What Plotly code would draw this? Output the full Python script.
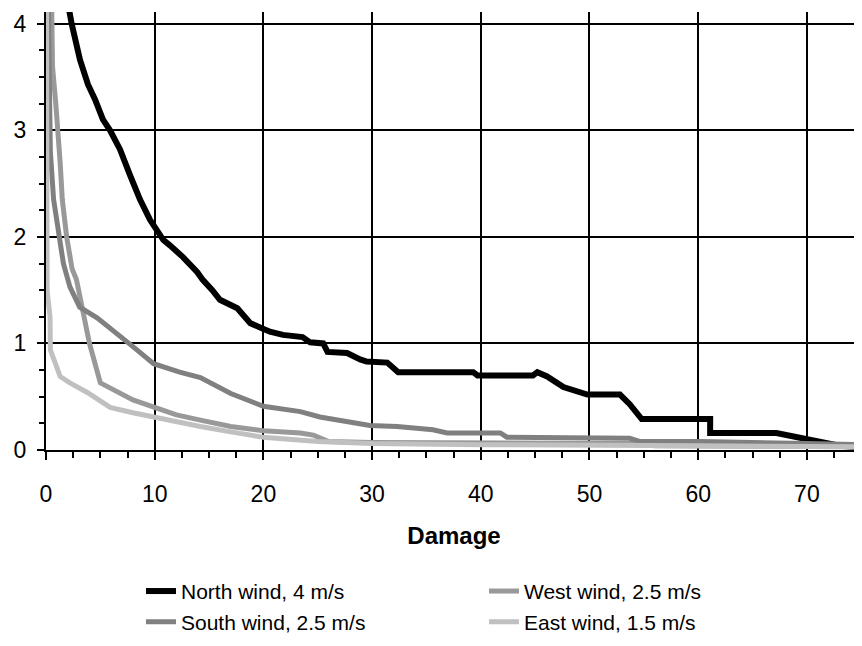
import plotly.graph_objects as go

# Data (Damage on x, value on y)
north_x = [2.0, 2.36, 3.13, 3.86, 4.51, 5.24, 5.89, 6.81, 7.73, 8.65, 9.57, 10.1, 10.8, 11.4, 12.6, 13.9, 14.4, 15.3, 16.0,
           17.6, 18.8, 19.7, 20.6, 21.8, 23.6, 24.3, 25.5, 25.9, 27.7, 28.9, 29.5, 31.4, 32.4, 39.3, 39.7, 44.8, 45.2,
           46.1, 47.6, 49.8, 52.8, 53.7, 54.8, 61.1, 61.1, 67.2, 70.9, 73.0, 76.0]
north_y = [4.2, 4.0, 3.66, 3.43, 3.29, 3.10, 3.0, 2.82, 2.58, 2.35, 2.16, 2.07, 1.97, 1.92, 1.81, 1.67, 1.60, 1.50, 1.41,
           1.33, 1.19, 1.15, 1.11, 1.08, 1.06, 1.01, 1.00, 0.92, 0.91, 0.85, 0.83, 0.82, 0.73, 0.73, 0.70, 0.70, 0.73,
           0.69, 0.59, 0.52, 0.52, 0.43, 0.29, 0.29, 0.16, 0.16, 0.08, 0.04, 0.02]

west_x = [0.5, 0.6, 0.9, 1.1, 1.3, 1.5, 1.9, 2.4, 2.8, 3.4, 4.0, 5.0, 6.5, 8.0, 10.0, 12.0, 14.2, 17.0, 20.0, 23.4,
          24.6, 26.0, 30.0, 40.0, 50.0, 54.0, 56.0, 76.0]
west_y = [4.3, 3.6, 3.25, 3.0, 2.7, 2.35, 2.0, 1.7, 1.6, 1.3, 1.0, 0.63, 0.55, 0.47, 0.40, 0.33, 0.28, 0.22, 0.18, 0.16,
          0.14, 0.08, 0.07, 0.07, 0.06, 0.06, 0.04, 0.03]

south_x = [0.2, 0.3, 0.4, 0.7, 1.2, 1.6, 2.2, 3.1, 4.7, 6.5, 8.0, 9.9, 12.3, 14.2, 17.0, 20.0, 23.4, 25.2, 28.0, 29.8,
           32.3, 35.6, 36.9, 41.8, 42.4, 46.1, 46.6, 53.7, 54.6, 60.2, 70.0, 76.0]
south_y = [4.3, 3.5, 2.8, 2.35, 2.0, 1.75, 1.53, 1.34, 1.24, 1.10, 0.97, 0.81, 0.73, 0.68, 0.53, 0.41, 0.36, 0.31, 0.26,
           0.23, 0.22, 0.19, 0.16, 0.16, 0.12, 0.12, 0.11, 0.11, 0.08, 0.08, 0.06, 0.05]

east_x = [0.05, 0.05, 0.1, 0.1, 0.37, 0.4, 1.3, 2.2, 3.8, 5.9, 8.0, 10.2, 14.2, 17.0, 20.0, 25.0, 30.0, 40.0, 50.0,
          60.0, 76.0]
east_y = [4.3, 3.0, 2.0, 1.5, 1.25, 0.94, 0.69, 0.63, 0.54, 0.40, 0.35, 0.30, 0.22, 0.17, 0.12, 0.08, 0.06, 0.05, 0.05,
          0.04, 0.03]

series_names = ["North wind, 4 m/s", "West wind, 2.5 m/s", "South wind, 2.5 m/s", "East wind, 1.5 m/s"]
series_colors = ["#000000", "#999999", "#808080", "#c0c0c0"]
series_x = [north_x, west_x, south_x, east_x]
series_y = [north_y, west_y, south_y, east_y]
series_widths = [6, 5, 5, 5]
series_legend = ["legend", "legend", "legend2", "legend2"]

FONT = "Arial, Liberation Sans, sans-serif"

fig = go.Figure()
for name, color, xs, ys, w, lg in zip(series_names, series_colors, series_x, series_y, series_widths, series_legend):
    fig.add_trace(go.Scatter(x=xs, y=ys, mode="lines", name=name, legend=lg,
                             line=dict(color=color, width=w)))

leg_common = dict(orientation="h", x=0.1164, xanchor="left", yanchor="top",
                  entrywidth=298, entrywidthmode="pixels", itemwidth=30,
                  font=dict(family=FONT, size=21, color="black"),
                  bgcolor="rgba(0,0,0,0)", borderwidth=0)

# The page has an 8px body margin, so the figure is offset by 8px in the photo.
fig.update_layout(
    width=862, height=646,
    margin=dict(l=38, r=8, t=4, b=204, autoexpand=False),
    plot_bgcolor="white", paper_bgcolor="white",
    font=dict(family=FONT, size=21, color="black"),
    showlegend=True,
    legend=dict(y=-0.276, **leg_common),
    legend2=dict(y=-0.346, **leg_common),
)

fig.update_xaxes(
    range=[0, 75.07], dtick=10, tick0=0, automargin=False,
    showgrid=True, gridcolor="black", gridwidth=2,
    showline=True, linecolor="black", linewidth=2,
    ticks="outside", ticklen=8, tickwidth=2, tickcolor="black",
    minor=dict(dtick=2.5, ticks="outside", ticklen=6, tickwidth=2, tickcolor="black", showgrid=False),
    zeroline=False, layer="below traces",
    tickfont=dict(family=FONT, size=23),
    ticklabelstandoff=14,
    title=dict(text="<b>Damage</b>", font=dict(family=FONT, size=24), standoff=22),
)
fig.update_yaxes(
    range=[0, 4.11], dtick=1, tick0=0, automargin=False,
    showgrid=True, gridcolor="black", gridwidth=2,
    showline=True, linecolor="black", linewidth=2,
    ticks="outside", ticklen=7, tickwidth=2, tickcolor="black",
    minor=dict(dtick=0.25, ticks="outside", ticklen=5, tickwidth=2, tickcolor="black", showgrid=False),
    zeroline=False, layer="below traces",
    tickfont=dict(family=FONT, size=23),
    ticklabelstandoff=6,
)

fig.write_html("out.html")
